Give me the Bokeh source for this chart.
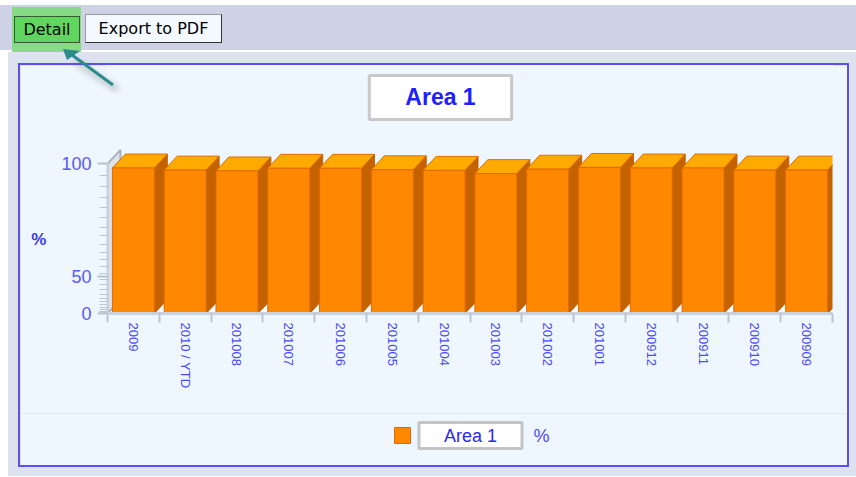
from bokeh.plotting import figure
from bokeh.models import (Range1d, FixedTicker, Label, Legend, LegendItem, Div, ColumnDataSource)
from bokeh.layouts import column, row
from bokeh.embed import file_html
from bokeh.resources import INLINE

# ---------------- data ----------------
categories = ["2009", "2010 / YTD", "201008", "201007", "201006", "201005", "201004",
              "201003", "201002", "201001", "200912", "200911", "200910", "200909"]
values = [98.6, 97.9, 97.6, 98.5, 98.5, 98.0, 97.8, 96.7, 98.2, 98.8, 98.6, 98.6, 97.9, 97.9]
y_major_ticks = [0, 50, 100]
y_minor_ticks = [4, 8, 12, 16, 20, 24, 28, 32, 36, 40, 44, 48,
                 52, 56, 60, 64, 68, 72, 76, 80, 84, 88, 92, 96]
series_name = "Area 1"
unit_label = "%"
chart_title = "Area 1"

# ---------------- styles ----------------
PANEL = "#EEF6FF"
GREYBG = "#DCE3EE"
BORDER = "2px solid #5B4FF2"
BLUE_TXT = "#4A4AF2"
FRONT = "#FF8800"
TOP = "#FFAA00"
SIDE = "#C46200"
EDGE = "#E06A00"
FONT = "Liberation Sans"
DX = 0.25    # 3D depth offset, category units
DY = 9.3     # 3D depth offset, axis units


def to_axis(v):
    """Chart's quadratic value axis (0 -> 0, 50 -> 25, 100 -> 100)."""
    return v * v / 100.0


n = len(categories)
xc = [i + 0.5 for i in range(n)]
tops = [to_axis(v) for v in values]
hw = 0.405

src = ColumnDataSource(dict(x=xc, top=tops, name=categories, val=values))

side_xs = [[x + hw, x + hw + DX, x + hw + DX, x + hw] for x in xc]
side_ys = [[0, DY, t + DY, t] for t in tops]
top_xs = [[x - hw, x + hw, x + hw + DX, x - hw + DX] for x in xc]
top_ys = [[t, t, t + DY, t + DY] for t in tops]

W = 831
p = figure(width=W, height=350, x_range=Range1d(0, n), y_range=Range1d(0, 165.7),
           output_backend="svg", toolbar_location=None, title=None,
           min_border_left=87, min_border_right=19, min_border_top=0, min_border_bottom=102,
           background_fill_color=PANEL, border_fill_color=PANEL,
           outline_line_color=PANEL, outline_line_width=2)
p.margin = 0
p.styles = {"border-top": BORDER, "border-left": BORDER, "border-right": BORDER}
p.xgrid.visible = False
p.ygrid.visible = False

# floor and left wall
p.patch([0, n, n + DX, DX], [0, 0, DY, DY], fill_color="#F6FAFE", line_color="#D5DDE7", line_width=1)
p.patch([0, DX, DX, 0], [0, DY, to_axis(100) + DY, to_axis(100)], fill_color="#DCE2EA",
        line_color="#A9B2BC", line_width=2)

p.patches(side_xs, side_ys, fill_color=SIDE, line_color=SIDE, line_width=1)
p.patches(top_xs, top_ys, fill_color=TOP, line_color=EDGE, line_width=1)
front = p.vbar(x="x", top="top", bottom=0, width=2 * hw, source=src,
               fill_color=FRONT, line_color=EDGE, line_width=1)

# x axis
xa = p.xaxis[0]
xa.ticker = FixedTicker(ticks=xc, minor_ticks=list(range(n + 1)))
xa.major_label_overrides = {x: c for x, c in zip(xc, categories)}
xa.major_label_orientation = "vertical"
xa.major_tick_out = 0
xa.major_tick_in = 0
xa.minor_tick_out = 9
xa.minor_tick_in = 0
xa.minor_tick_line_color = "#BCC6D2"
xa.minor_tick_line_width = 2
xa.axis_line_color = "#C8D2DE"
xa.axis_line_width = 3
xa.major_label_standoff = 0
xa.major_label_text_font = FONT
xa.major_label_text_font_size = "13px"
xa.major_label_text_color = BLUE_TXT

# y axis
ya = p.yaxis[0]
ya.bounds = (0, 100)
ya.ticker = FixedTicker(ticks=[to_axis(v) for v in y_major_ticks],
                        minor_ticks=[to_axis(v) for v in y_minor_ticks])
ya.major_label_overrides = {to_axis(v): str(v) for v in y_major_ticks}
ya.major_tick_out = 10
ya.major_tick_in = 0
ya.minor_tick_out = 8
ya.minor_tick_in = 0
ya.major_tick_line_color = "#B8C2CE"
ya.minor_tick_line_color = "#BCC6D2"
ya.major_tick_line_width = 2
ya.minor_tick_line_width = 1
ya.axis_line_color = "#C8D2DE"
ya.axis_line_width = 2
ya.major_label_standoff = 6
ya.major_label_text_font = FONT
ya.major_label_text_font_size = "18px"
ya.major_label_text_color = "#5A5AF5"
# unit label sits level with the middle of the value axis (frame also holds the title)
ya.axis_label = "\n\n\n\n\n" + unit_label
ya.axis_label_orientation = "horizontal"
ya.axis_label_standoff = 12
ya.axis_label_text_font = FONT
ya.axis_label_text_font_size = "17px"
ya.axis_label_text_line_height = 1.05
ya.axis_label_text_font_style = "bold"
ya.axis_label_text_color = "#3A3AEE"

# title in a box (inside the frame, above the bars)
p.add_layout(Label(x=6.43, y=144.4, text=chart_title, text_align="center", text_baseline="middle",
                   text_font=FONT, text_font_size="23px", text_font_style="bold", text_color="#2020FF",
                   background_fill_color="white", border_line_color="#C8C8C8", border_line_width=3,
                   padding=dict(left=36, right=36, top=9, bottom=9)))

# ---------------- legend strip (frame aligned with the chart frame) ----------------
H2 = 54
FW = 725  # frame width in px
p2 = figure(width=W, height=H2, x_range=Range1d(0, FW), y_range=Range1d(0, H2 - 2),
            output_backend="svg", toolbar_location=None, title=None,
            x_axis_type=None, y_axis_type=None,
            min_border_left=0, min_border_right=0, min_border_top=2, min_border_bottom=0,
            background_fill_color=PANEL, border_fill_color=PANEL,
            outline_line_color=PANEL, outline_line_width=3)
p2.margin = 0
p2.styles = {"border-bottom": BORDER, "border-left": BORDER, "border-right": BORDER}
p2.xgrid.visible = False
p2.ygrid.visible = False
# legend swatch renderer: same series, drawn on a range that keeps its bars out of view
p2.extra_y_ranges = {"swatch": Range1d(1000, 1001)}
swatch = p2.vbar(x="x", top="top", bottom=0, width=2 * hw, source=src, y_range_name="swatch",
                 fill_color=FRONT, line_color=EDGE, line_width=1)
legend = Legend(items=[LegendItem(label=" ", renderers=[swatch])], location=(285, 22),
                padding=0, spacing=0, margin=0, glyph_width=20, glyph_height=20,
                label_standoff=0, border_line_color=None, background_fill_alpha=0,
                label_text_font_size="4px")
p2.add_layout(legend, "center")
p2.add_layout(Label(x=363, y=32, text=series_name, text_align="center", text_baseline="middle",
                    text_font=FONT, text_font_size="18px", text_color="#2828F5",
                    background_fill_color="white", border_line_color="#C4C4C4", border_line_width=3,
                    padding=dict(left=25, right=25, top=3, bottom=3)))
p2.add_layout(Label(x=434, y=32, text=unit_label, text_align="center", text_baseline="middle",
                    text_font=FONT, text_font_size="18px", text_color="#4A4AF2"))

# ---------------- toolbar strip ----------------
top_html = """
<div style="position:relative;width:856px;height:63px;overflow:visible;background:#FFFFFF;
 font-family:'DejaVu Sans',sans-serif;font-size:16px;color:#000;">
  <div style="position:absolute;left:0px;top:5px;width:856px;height:45px;background:#CDD3E5;"></div>
  <div style="position:absolute;left:8px;top:52px;width:848px;height:11px;background:#DCE3EE;"></div>
  <div style="position:absolute;left:12px;top:7px;width:69px;height:45px;background:#88DA88;"></div>
  <div style="position:absolute;left:14px;top:16px;width:66px;height:27px;background:#60D660;
       border:1px solid #2F5F2F;box-sizing:border-box;line-height:25px;text-align:center;">Detail</div>
  <div style="position:absolute;left:85px;top:14px;width:137px;height:29px;background:#F4F8FF;
       border:1px solid #9A9A9A;border-right-color:#333;border-bottom-color:#333;box-sizing:border-box;
       line-height:27px;text-align:center;">Export to PDF</div>
  <svg style="position:absolute;left:0px;top:0px;overflow:visible;z-index:20" width="140" height="100">
    <defs><filter id="blr"><feGaussianBlur stdDeviation="3"/></filter></defs>
    <line x1="118" y1="90" x2="76" y2="62" stroke="#555" stroke-width="5" opacity="0.35" filter="url(#blr)"/>
    <line x1="113" y1="85" x2="72" y2="55" stroke="#2C8C8A" stroke-width="3"/>
    <polygon points="63,49 80,51 67,60" fill="#2C8C8A"/>
  </svg>
</div>
"""
top_div = Div(text=top_html, width=856, height=63, margin=0,
              styles={"overflow": "visible", "z-index": "20"})
left_div = Div(text="", width=18, height=413, margin=0,
               styles={"background": "linear-gradient(to right, #FFFFFF 0px, #FFFFFF 8px, #DCE3EE 8px)"})

layout = column(top_div, row(left_div, column(p, p2, spacing=0), spacing=0), spacing=0,
                styles={"background-color": GREYBG})
open("out.html", "w").write(file_html(layout, INLINE))
